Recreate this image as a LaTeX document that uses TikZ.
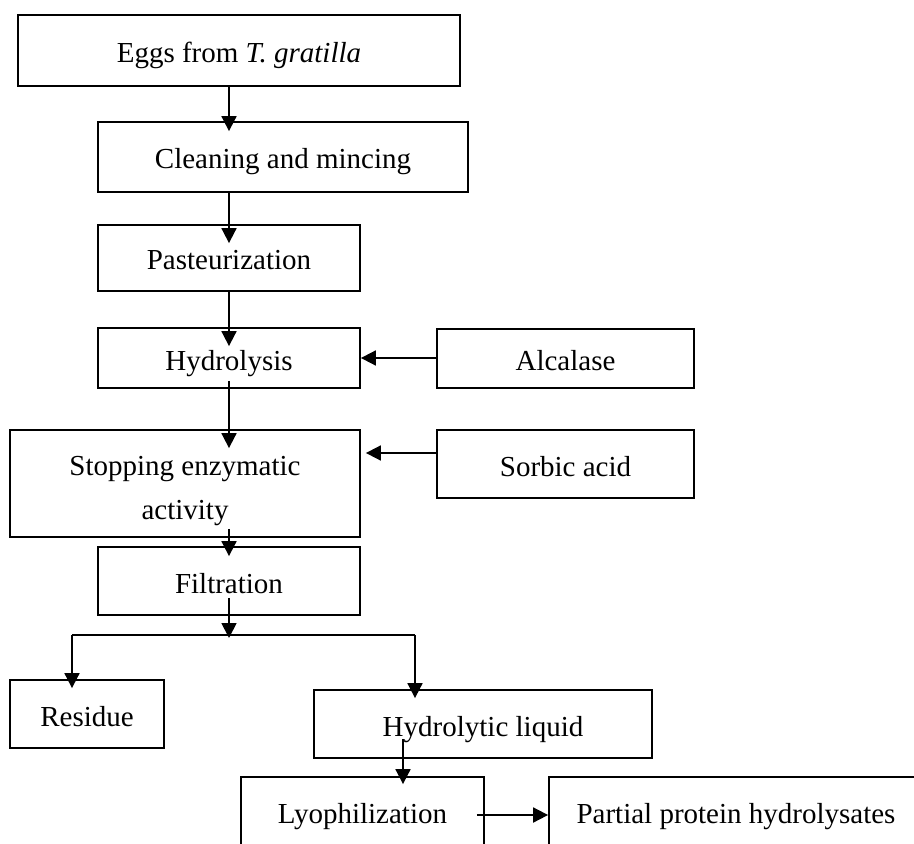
\documentclass[tikz,border=0pt]{standalone}
\usepackage{fontspec}
\setmainfont{Liberation Serif}
\usetikzlibrary{arrows.meta}

\tikzset{
  box/.style={draw, line width=0.9pt, inner sep=0pt, font=\fontsize{14.5}{22}\selectfont},
  row/.style={box, text height=14.5pt, text depth=2.5pt},
  flow/.style={line width=0.9pt, -{Triangle[length=7.5pt,width=7.5pt]}},
}

\begin{document}
\begin{tikzpicture}[x=0.5pt,y=-0.5pt]
\useasboundingbox (0,0) rectangle (914,844);
\clip (0,0) rectangle (914,844);
% main column
\node[row, minimum width=221pt, minimum height=35.5pt] (eggs) at (239,50.5) {Eggs from \textit{T. gratilla}};
\node[row, minimum width=185pt, minimum height=35pt] (clean) at (283,157) {Cleaning and mincing};
\node[row, minimum width=131pt, minimum height=33pt] (past) at (229,258) {Pasteurization};
\node[row, minimum width=131pt, minimum height=30pt] (hydro) at (229,358) {Hydrolysis};
\node[box, minimum width=175pt, minimum height=53.5pt, align=center, text height=36pt, text depth=0pt] (stop) at (185,483.5) {Stopping enzymatic\\activity};
\node[row, minimum width=131pt, minimum height=34pt] (filt) at (229,581) {Filtration};
% additives
\node[row, minimum width=128.5pt, minimum height=29.5pt] (alc) at (565.5,358.5) {Alcalase};
\node[row, minimum width=128.5pt, minimum height=34pt] (sorb) at (565.5,464) {Sorbic acid};
% products
\node[row, minimum width=77pt, minimum height=34pt] (resid) at (87,714) {Residue};
\node[row, minimum width=169pt, minimum height=34pt] (liquid) at (483,724) {Hydrolytic liquid};
\node[row, minimum width=121.5pt, minimum height=34pt] (lyo) at (362.5,811) {Lyophilization};
\node[row, minimum width=187pt, minimum height=34pt] (part) at (736,811) {Partial protein hydrolysates};

% arrows
\draw[flow, shorten >=-5pt] (eggs.south -| past) -- (clean.north -| past);
\draw[flow, shorten >=-9.5pt] (clean.south -| past) -- (past.north);
\draw[flow, shorten >=-9.5pt] (past.south) -- (hydro.north);
\draw[flow, shorten <=-4pt, shorten >=-9.5pt] (hydro.south) -- (stop.north -| hydro);
\draw[flow, shorten <=-4.5pt, shorten >=-5pt] (stop.south -| filt) -- (filt.north);
\draw[flow] (alc.west |- hydro.east) -- (hydro.east);
\coordinate (sorbout) at ([yshift=5.5pt]sorb.west);
\draw[flow, shorten >=2.5pt] (sorbout) -- (sorbout -| stop.east);

% split after filtration
\coordinate (split) at (229,635);
\coordinate (splitl) at (72,635);
\coordinate (splitr) at (415,635);
\draw[flow, shorten <=-9pt, shorten >=-1.5pt] (filt.south) -- (split);
\draw[line width=0.9pt] (splitl) -- (splitr);
\draw[flow, shorten >=-4.5pt] (splitl) -- (splitl |- resid.north);
\draw[flow, shorten >=-4.5pt] (splitr) -- (splitr |- liquid.north);
\coordinate (drop) at ([xshift=-40pt]liquid.south);
\draw[flow, shorten <=-10pt, shorten >=-4pt] (drop) -- (drop |- lyo.north);
\coordinate (lyoout) at ([yshift=-2pt]lyo.east);
\draw[flow, shorten <=-4pt] (lyoout) -- (lyoout -| part.west);
\end{tikzpicture}
\end{document}
